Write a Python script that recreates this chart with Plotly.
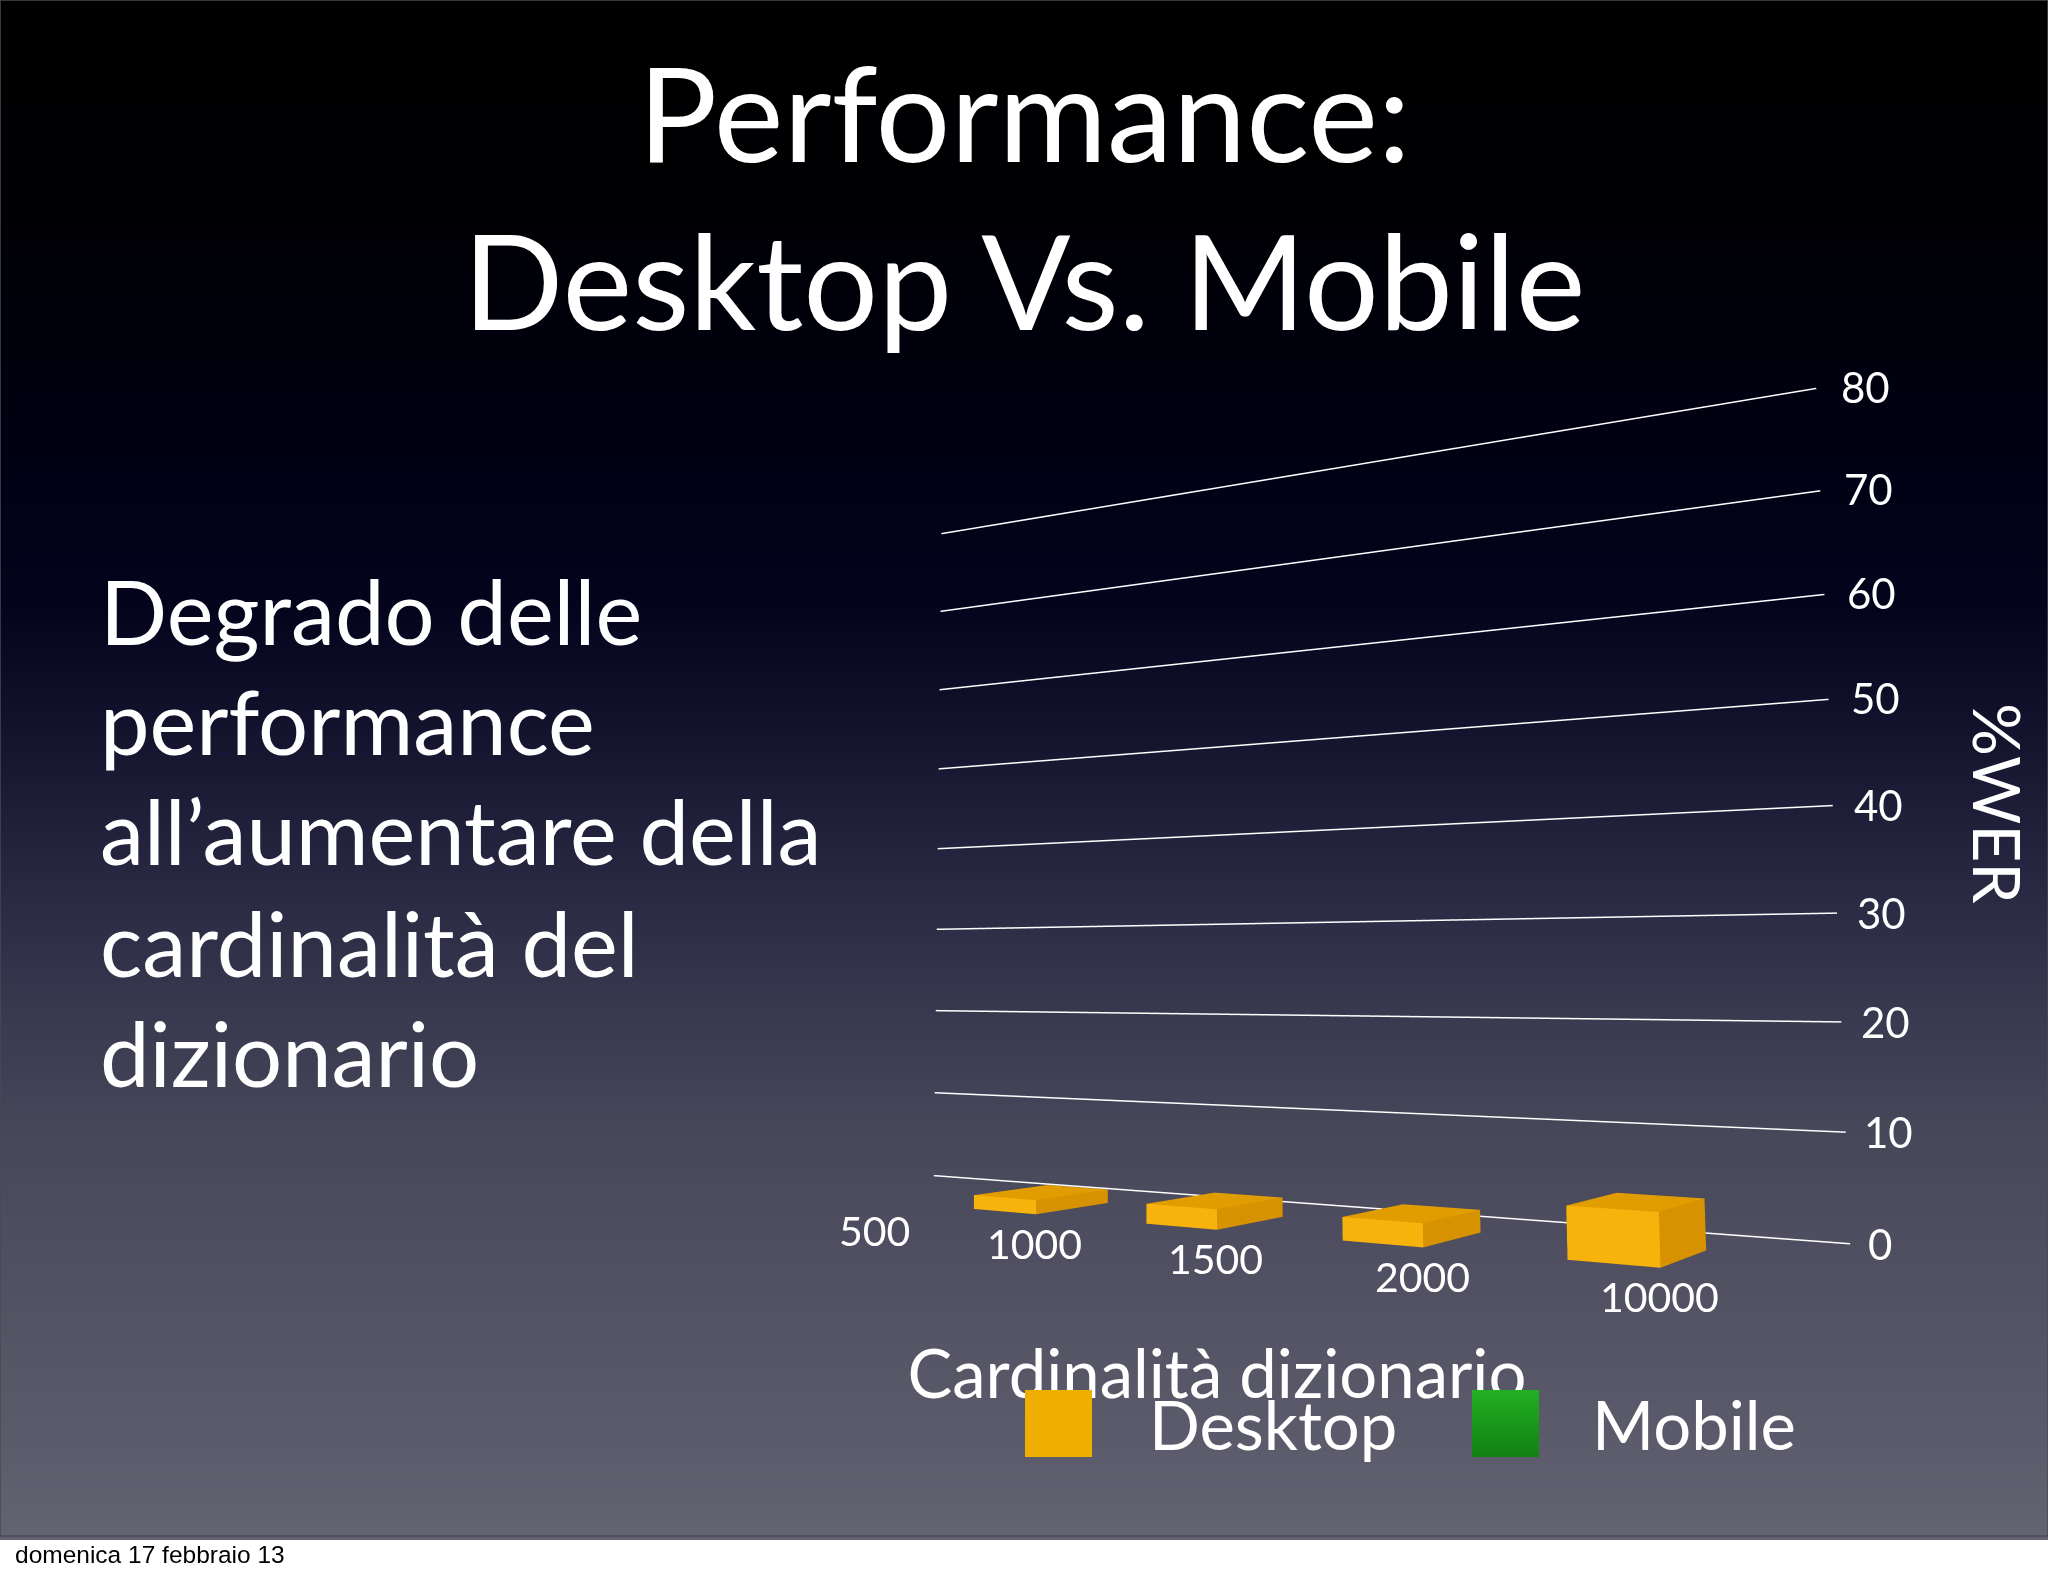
import numpy as np
import plotly.graph_objects as go

# ---- data ----
categories = ["500", "1000", "1500", "2000", "10000"]
desktop_wer = [0, 1.4, 1.9, 2.1, 4.5]
y_ticks = [0, 10, 20, 30, 40, 50, 60, 70, 80]
y_title = "%WER"
x_title = "Cardinalità dizionario"
legend_names = ["Desktop", "Mobile"]
title_lines = ["Performance:", "Desktop Vs. Mobile"]
body_lines = ["Degrado delle", "performance", "all’aumentare della",
              "cardinalità del", "dizionario"]
footer = "domenica 17 febbraio 13"

# ---- style / layout constants ----
W, H, SLIDE_H = 2048, 1576, 1536
FONT = "Lato"
WALL_LEN = 1.818
BAND = 0.36
BAR_W = 0.135
ROW_FRONT, ROW_BACK = -0.46, -0.225
Z_RANGE = [-10, 90]
X_RANGE = [-0.1, 2.1]
Y_RANGE = [-1.0, 0.2]
Z_UNIT = 1.3887 / 80

grad_stops = [(0.0, "#000000"), (0.13, "#000003"), (0.28, "#000012"), (0.39, "#03031c"),
              (0.46, "#10102a"), (0.585, "#2a2a44"), (0.735, "#47475a"), (0.95, "#5c5c6c"),
              (1.0, "#636372")]
swatch_grads = [[[0, "#EFAE00"], [1, "#EFAE00"]], [[0, "#128012"], [1, "#22B022"]]]

fig = go.Figure()

# slide background
rows = np.linspace(0, SLIDE_H, 200)
fig.add_trace(go.Heatmap(x=[0, W], y=rows, z=[[r, r] for r in rows],
                         colorscale=[[a, c] for a, c in grad_stops], showscale=False,
                         hoverinfo="skip", zsmooth="best", xaxis="x", yaxis="y"))

# axis title sits under the legend swatches
fig.add_trace(go.Scatter(x=[1217], y=[1381], mode="text", text=[x_title],
                         textfont=dict(family=FONT, size=67, color="white"),
                         hoverinfo="skip", showlegend=False, xaxis="x", yaxis="y"))

# legend swatches
for x0, g in zip([1025, 1472], swatch_grads):
    fig.add_trace(go.Scatter(x=[x0, x0 + 67, x0 + 67, x0, x0], y=[1390, 1390, 1457, 1457, 1390],
                             mode="none", fill="toself",
                             fillgradient=dict(type="vertical", colorscale=g, start=1457, stop=1390),
                             hoverinfo="skip", showlegend=False, xaxis="x", yaxis="y"))

# gridlines on the back wall
for t in y_ticks:
    fig.add_trace(go.Scatter3d(x=[0, WALL_LEN], y=[0, 0], z=[t, t], mode="lines",
                               line=dict(color="white", width=3), hoverinfo="skip",
                               showlegend=False, scene="scene"))

# bars
for i, (cat, val) in enumerate(zip(categories, desktop_wer)):
    if not val:
        continue
    xc = (i + 0.5) * BAND - 0.03
    x0, x1 = xc - BAR_W / 2, xc + BAR_W / 2
    y0, y1 = ROW_FRONT, ROW_BACK
    fig.add_trace(go.Mesh3d(
        x=[x0, x1, x1, x0, x0, x1, x1, x0],
        y=[y0, y0, y1, y1, y0, y0, y1, y1],
        z=[0, 0, 0, 0, val, val, val, val],
        i=[0, 0, 4, 4, 0, 0, 1, 1, 2, 2, 3, 3],
        j=[1, 2, 5, 6, 1, 5, 2, 6, 3, 7, 0, 4],
        k=[2, 3, 6, 7, 5, 4, 6, 5, 7, 6, 4, 7],
        facecolor=["#B87E00"] * 2 + ["#E19C00"] * 2 + ["#F7B30C"] * 2 + ["#D69200"] * 2
                  + ["#B87E00"] * 4,
        flatshading=True,
        lighting=dict(ambient=1, diffuse=0, specular=0, roughness=1, fresnel=0),
        hoverinfo="skip", showlegend=False, scene="scene"))

scene_ann = []
for t in y_ticks:
    scene_ann.append(dict(x=WALL_LEN + 0.035, y=0, z=t, text=str(t), showarrow=False,
                          xanchor="left", yshift=-2 + (80 - t) * 0.04, xshift=-(80 - t) * 0.1,
                          font=dict(family=FONT, size=42, color="white")))
for i, cat in enumerate(categories):
    scene_ann.append(dict(x=(i + 0.5) * BAND + 0.035, y=ROW_FRONT, z=-3.1 + 0.2 * i, text=cat,
                          showarrow=False, font=dict(family=FONT, size=41, color="white")))

ann = []
for s, yy in zip(title_lines, [111, 279]):
    ann.append(dict(x=1024, y=yy, text=s, font=dict(size=132, color="white", family=FONT)))
for s, yy in zip(body_lines, [611, 721, 831, 943, 1053]):
    ann.append(dict(x=98, y=yy, text=s, xanchor="left",
                    font=dict(size=88.5, color="white", family=FONT)))
ann.append(dict(x=1999, y=803, text=y_title, textangle=90,
                font=dict(size=66, color="white", family=FONT)))
ann.append(dict(x=1273, y=1424, text=legend_names[0], font=dict(size=67, color="white", family=FONT)))
ann.append(dict(x=1694, y=1424, text=legend_names[1], font=dict(size=67, color="white", family=FONT)))
ann.append(dict(x=13, y=1554, text=footer, xanchor="left",
                font=dict(size=24.5, color="black", family="Liberation Sans")))
for a in ann:
    a.update(xref="x", yref="y", showarrow=False)

shapes = [dict(type="rect", xref="x", yref="y", x0=0, x1=W, y0=0, y1=SLIDE_H,
               fillcolor="rgba(0,0,0,0)", line=dict(color="#4a4a52", width=1.5), layer="above")]

hidden = dict(visible=False)
fig.update_layout(
    width=W, height=H, margin=dict(l=0, r=0, t=0, b=0, pad=0),
    paper_bgcolor="white", plot_bgcolor="rgba(0,0,0,0)", showlegend=False,
    xaxis=dict(range=[0, W], domain=[0, 1], visible=False, fixedrange=True),
    yaxis=dict(range=[H, 0], domain=[0, 1], visible=False, fixedrange=True),
    annotations=ann, shapes=shapes,
    scene=dict(
        domain=dict(x=[0, 1], y=[0, 1]),
        bgcolor="rgba(0,0,0,0)",
        xaxis=dict(range=X_RANGE, **hidden),
        yaxis=dict(range=Y_RANGE, **hidden),
        zaxis=dict(range=Z_RANGE, **hidden),
        aspectmode="manual",
        aspectratio=dict(x=X_RANGE[1] - X_RANGE[0], y=Y_RANGE[1] - Y_RANGE[0],
                         z=(Z_RANGE[1] - Z_RANGE[0]) * Z_UNIT),
        camera=dict(eye=dict(x=1.49, y=-2.858, z=-0.316),
                    center=dict(x=-0.212, y=-0.409, z=0.011),
                    up=dict(x=0.0564, y=-0.0934, z=0.994),
                    projection=dict(type="perspective")),
        annotations=scene_ann,
    ),
)

fig.write_html("out.html", config=dict(displayModeBar=False),
               post_script="document.body.style.margin='0';document.body.style.overflow='hidden';")
